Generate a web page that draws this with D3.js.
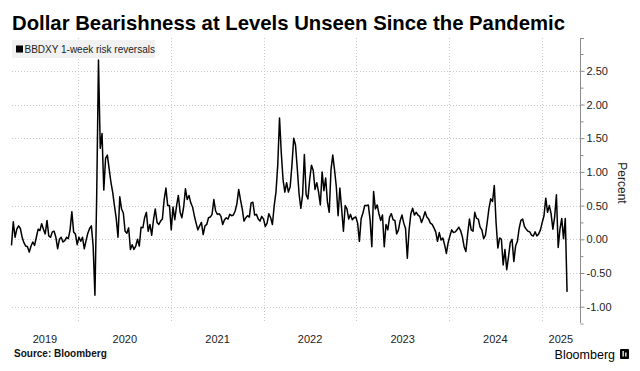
<!DOCTYPE html>
<html>
<head>
<meta charset="utf-8">
<script src="https://cdn.jsdelivr.net/npm/d3@7"></script>
<style>
body { margin:0; background:#fff; }
svg { display:block; }
</style>
</head>
<body>
<svg id="chart" width="640" height="371"></svg>
<script>

// BBDXY 1-week risk reversals, weekly closes (Fridays), first close on startDate
var startDate = "2019-04-12";
var endDate = "2025-06-01";   // right edge of the time axis

var values2019 = [-0.09,0.26,0.03,0.15,0.20,0.16,0.03,-0.05,-0.10,-0.11,-0.19,-0.10,-0.04,-0.09,0.03,0.15,0.13,0.23,0.15,0.08,
    0.28,0.05,0.03,0.11,0.12,0.03,-0.14,0.00,0.03,-0.04,-0.02,0.03,0.01,0.14,0.41,0.11,0.08,-0.08];
var values2020 = [0.03,-0.03,0.03,-0.14,-0.02,0.09,0.16,0.20,-0.10,-0.83,0.65,2.66,1.35,1.57,0.73,1.20,1.25,1.05,0.85,0.70,
    0.50,0.31,0.03,0.63,0.45,0.39,0.12,0.09,0.17,-0.15,-0.08,-0.15,-0.10,0.00,-0.10,0.18,0.17,0.32,0.40,0.12,
    0.22,0.06,0.29,0.45,0.25,0.22,0.27,0.30,0.59,0.76,0.50,0.50];
var values2021 = [0.14,0.48,0.29,0.50,0.65,0.40,0.32,0.48,0.75,0.59,0.65,0.54,0.48,0.35,0.24,0.14,0.20,0.25,0.07,0.20,
    0.22,0.32,0.33,0.37,0.59,0.42,0.37,0.38,0.34,0.22,0.29,0.32,0.30,0.37,0.35,0.36,0.42,0.53,0.74,0.59,
    0.45,0.27,0.32,0.35,0.33,0.54,0.55,0.36,0.37,0.30,0.27,0.34,0.30];
var values2022 = [0.19,0.24,0.38,0.32,0.22,0.50,0.70,1.10,1.80,1.28,0.88,0.70,0.84,0.70,0.78,1.10,1.50,1.40,1.05,0.68,
    0.46,0.66,1.26,0.66,0.60,0.89,1.10,1.02,0.74,0.84,0.70,0.51,1.00,0.72,0.91,0.55,0.40,1.03,1.25,1.03,
    0.78,0.35,0.76,0.45,0.12,0.50,0.45,0.30,0.37,0.29,0.32,0.33];
var values2023 = [0.24,-0.03,0.31,0.39,0.50,0.50,0.51,0.30,-0.11,0.71,0.45,0.51,0.38,0.28,0.36,-0.11,0.22,0.14,0.33,0.38,
    0.29,0.28,0.08,0.14,0.28,0.36,0.24,0.16,-0.28,0.14,0.38,0.46,0.36,0.40,0.36,0.34,0.25,0.32,0.41,0.33,
    0.30,0.24,0.22,0.17,0.11,-0.03,0.10,-0.01,0.02,-0.08,-0.21,-0.05];
var values2024 = [0.05,0.14,0.10,0.11,0.14,0.18,0.13,0.04,-0.11,-0.18,0.08,0.30,0.14,0.12,0.40,0.31,0.30,0.18,0.14,0.01,
    0.06,0.25,0.46,0.60,0.56,0.80,0.25,-0.13,0.02,0.00,-0.38,-0.15,-0.45,-0.26,-0.05,0.00,-0.33,-0.10,-0.03,0.16,
    0.28,0.30,0.19,0.15,0.12,0.11,0.06,0.05,0.11,0.05,0.08,0.14];
var values2025 = [0.25,0.35,0.61,0.40,0.50,0.38,0.15,0.33,0.66,-0.12,0.15,0.31,0.01,0.31,-0.78];

var yTicks = [-1, -0.5, 0, 0.5, 1, 1.5, 2, 2.5];
var yMinor = [-1.25, -0.75, -0.25, 0.25, 0.75, 1.25, 1.75, 2.25, 2.75];
var years = [2019, 2020, 2021, 2022, 2023, 2024, 2025];

var title = "Dollar Bearishness at Levels Unseen Since the Pandemic";
var legendLabel = "BBDXY 1-week risk reversals";
var yLabel = "Percent";
var source = "Source: Bloomberg";

var svg = d3.select("#chart");
var plotLeft = 12, plotRight = 580, plotTop = 38, plotBottom = 323;
var font = "'Liberation Sans', Arial, sans-serif";

var parse = d3.timeParse("%Y-%m-%d");
var t0 = parse(startDate);
var allValues = values2019.concat(values2020, values2021, values2022, values2023, values2024, values2025);
var data = allValues.map(function(v, i) {
    return {date: d3.timeDay.offset(t0, 7 * i), value: v};
});

var x = d3.scaleTime()
    .domain([t0, parse(endDate)])
    .range([11.5, plotRight]);

var y = d3.scaleLinear()
    .domain([-1, 2.5])
    .range([306.7, 70.8]);

// title
svg.append("text")
    .attr("x", 12).attr("y", 30)
    .attr("textLength", 553).attr("lengthAdjust", "spacingAndGlyphs")
    .style("font-family", font).style("font-weight", "bold").style("font-size", "21px")
    .style("fill", "#000")
    .text(title);

// horizontal grid
svg.append("g").selectAll("line")
    .data(yTicks)
    .enter().append("line")
    .attr("x1", plotLeft).attr("x2", plotRight)
    .attr("y1", function(d) { return Math.round(y(d)) + 0.5; })
    .attr("y2", function(d) { return Math.round(y(d)) + 0.5; })
    .style("stroke", "#c8c8c8").style("stroke-dasharray", "1,2");

// vertical grid at year starts
svg.append("g").selectAll("line")
    .data(years.slice(1))
    .enter().append("line")
    .attr("x1", function(d) { return Math.round(x(new Date(d, 0, 1))) + 0.5; })
    .attr("x2", function(d) { return Math.round(x(new Date(d, 0, 1))) + 0.5; })
    .attr("y1", plotTop).attr("y2", plotBottom)
    .style("stroke", "#c8c8c8").style("stroke-dasharray", "1,2");

// legend
var legend = svg.append("g");
legend.append("rect")
    .attr("x", 12).attr("y", 40).attr("width", 143).attr("height", 18)
    .style("fill", "#f1f1f1");
legend.append("rect")
    .attr("x", 16).attr("y", 45.5).attr("width", 7).attr("height", 7)
    .style("fill", "#000");
legend.append("text")
    .attr("x", 24.5).attr("y", 52.5)
    .style("font-family", font).style("font-size", "10px").style("fill", "#222")
    .text(legendLabel);

// the line
var line = d3.line()
    .x(function(d) { return x(d.date); })
    .y(function(d) { return y(d.value); });

svg.append("path")
    .datum(data)
    .attr("d", line)
    .style("fill", "none")
    .style("stroke", "#000")
    .style("stroke-width", 1.5)
    .style("stroke-linejoin", "round");

// right axis
var axisG = svg.append("g").attr("transform", "translate(" + plotRight + ",0)");
axisG.append("line")
    .attr("x1", 0.5).attr("x2", 0.5).attr("y1", plotTop).attr("y2", plotBottom)
    .style("stroke", "#8c8c8c");
axisG.append("line")
    .attr("x1", 0.5).attr("x2", 4).attr("y1", plotTop + 0.5).attr("y2", plotTop + 0.5)
    .style("stroke", "#8c8c8c");

var yAxis = d3.axisRight(y)
    .tickValues(yTicks)
    .tickSize(4)
    .tickPadding(2)
    .tickFormat(function(d) { return d.toFixed(2); });
var yAxisG = axisG.append("g").attr("transform", "translate(0.5,0)").call(yAxis);
yAxisG.select(".domain").remove();
yAxisG.selectAll(".tick line").style("stroke", "#8c8c8c");
yAxisG.selectAll(".tick text")
    .style("font-family", font).style("font-size", "11px").style("fill", "#222");

var yMinorAxis = d3.axisRight(y).tickValues(yMinor).tickSize(3).tickFormat("");
var yMinorG = axisG.append("g").attr("transform", "translate(0.5,0)").call(yMinorAxis);
yMinorG.select(".domain").remove();
yMinorG.selectAll(".tick line").style("stroke", "#8c8c8c");

svg.append("text")
    .attr("transform", "translate(618,183) rotate(90)")
    .attr("text-anchor", "middle")
    .style("font-family", font).style("font-size", "12px").style("fill", "#222")
    .text(yLabel);

// year labels, centred on the visible part of each year
var d0 = x.domain()[0], d1 = x.domain()[1];
svg.append("g").selectAll("text")
    .data(years)
    .enter().append("text")
    .attr("x", function(d) {
        var a = new Date(d, 0, 1), b = new Date(d + 1, 0, 1);
        if (a < d0) a = d0;
        if (b > d1) b = d1;
        return (x(a) + x(b)) / 2;
    })
    .attr("y", 343)
    .attr("text-anchor", "middle")
    .style("font-family", font).style("font-size", "11px").style("fill", "#222")
    .text(function(d) { return d; });

// footer
svg.append("text")
    .attr("x", 14).attr("y", 357)
    .style("font-family", font).style("font-weight", "bold").style("font-size", "10px").style("fill", "#111")
    .text(source);

svg.append("text")
    .attr("x", 615).attr("y", 359)
    .attr("text-anchor", "end")
    .style("font-family", font).style("font-size", "12.5px").style("fill", "#000")
    .text("Bloomberg");
svg.append("rect")
    .attr("x", 620).attr("y", 349).attr("width", 9).attr("height", 10).attr("rx", 1)
    .style("fill", "#000");
svg.append("rect")
    .attr("x", 622.5).attr("y", 351).attr("width", 1.3).attr("height", 5.5)
    .style("fill", "#fff");
svg.append("rect")
    .attr("x", 625.2).attr("y", 352.5).attr("width", 1.3).attr("height", 4)
    .style("fill", "#fff");

</script>
</body>
</html>
